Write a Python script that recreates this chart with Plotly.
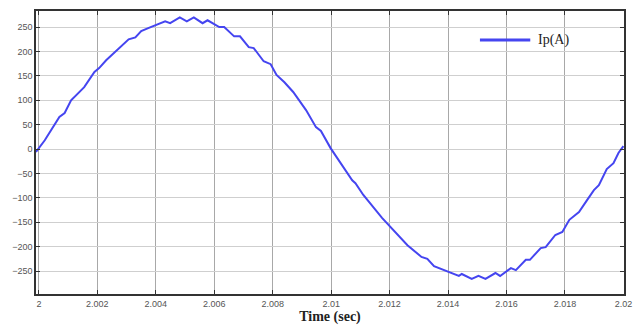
import plotly.graph_objects as go

time_sec = [1.9999, 2.0002, 2.0007, 2.00088, 2.0011, 2.00155, 2.0019, 2.00206, 2.0023, 2.00267,
            2.00307, 2.0033, 2.0035, 2.00374, 2.0041, 2.00432, 2.00449, 2.00482, 2.00506, 2.0053,
            2.0056, 2.00577, 2.00617, 2.00634, 2.00668, 2.00688, 2.00718, 2.00735, 2.00769, 2.00793,
            2.00813, 2.0084, 2.0087, 2.00914, 2.00948, 2.00965, 2.00998, 2.01042, 2.01072, 2.01083,
            2.0111, 2.01174, 2.01218, 2.01261, 2.01309, 2.01329, 2.01352, 2.01396, 2.01437, 2.01447,
            2.01481, 2.01504, 2.01528, 2.01562, 2.01578, 2.01615, 2.01632, 2.01666, 2.0168, 2.01717,
            2.01734, 2.01767, 2.01791, 2.01815, 2.01848, 2.01875, 2.01899, 2.01916, 2.01943, 2.01966,
            2.01983, 2.02]
ip_amp = [-6, 18, 66, 74, 100, 127, 158, 166, 182, 203,
          225, 229, 242, 248, 256, 262, 258, 270, 262, 270,
          258, 264, 250, 250, 231, 231, 209, 207, 180, 174,
          152, 137, 117, 80, 45, 37, 2, -37, -64, -70,
          -94, -141, -170, -197, -221, -225, -240, -250, -260, -256,
          -266, -260, -266, -254, -260, -244, -248, -227, -227, -203,
          -201, -176, -170, -145, -129, -105, -84, -74, -41, -29,
          -8, 6]

x_ticks = [2, 2.002, 2.004, 2.006, 2.008, 2.01, 2.012, 2.014, 2.016, 2.018, 2.02]
x_tick_labels = ["2", "2.002", "2.004", "2.006", "2.008", "2.01", "2.012", "2.014", "2.016", "2.018", "2.02"]
y_ticks = [-250, -200, -150, -100, -50, 0, 50, 100, 150, 200, 250]
series_name = "Ip(A)"
line_color = "#4545f0"

fig = go.Figure()
fig.add_trace(go.Scatter(x=time_sec, y=ip_amp, mode="lines", name=series_name,
                         line=dict(color=line_color, width=2), showlegend=False))

# legend drawn manually (long sample line as in the reference)
fig.add_shape(type="line", xref="paper", yref="paper", x0=0.755, x1=0.8406, y0=0.8975, y1=0.8975,
              line=dict(color=line_color, width=3))
fig.add_annotation(xref="paper", yref="paper", x=0.850, y=0.8975, xanchor="left", yanchor="middle",
                   text=series_name, showarrow=False,
                   font=dict(family="Liberation Serif", size=14, color="#222"))

fig.update_layout(
    width=636, height=325, autosize=False,
    margin=dict(l=36, r=4, t=11, b=31),
    paper_bgcolor="white", plot_bgcolor="white",
    xaxis=dict(range=[1.9999, 2.02002], tickvals=x_ticks, ticktext=x_tick_labels,
               showgrid=True, gridcolor="#a8a8a8", gridwidth=1,
               showline=True, linecolor="#333", linewidth=1.5, mirror="ticks",
               ticks="inside", ticklen=4, tickcolor="#333",
               zeroline=False, ticklabeloverflow="allow",
               tickfont=dict(family="Liberation Sans", size=9, color="#555"),
               title=dict(text="<b>Time (sec)</b>", standoff=2,
                          font=dict(family="Liberation Serif", size=14, color="#222"))),
    yaxis=dict(range=[-297, 283], tickvals=y_ticks,
               showgrid=True, gridcolor="#cfcfcf", gridwidth=1,
               showline=True, linecolor="#333", linewidth=1.5, mirror="ticks",
               ticks="inside", ticklen=4, tickcolor="#333",
               zeroline=False,
               tickfont=dict(family="Liberation Sans", size=9, color="#555")),
)

fig.write_html("out.html",
               config={"responsive": False, "displayModeBar": False},
               post_script="document.body.style.margin='0';document.body.style.overflow='hidden';")
